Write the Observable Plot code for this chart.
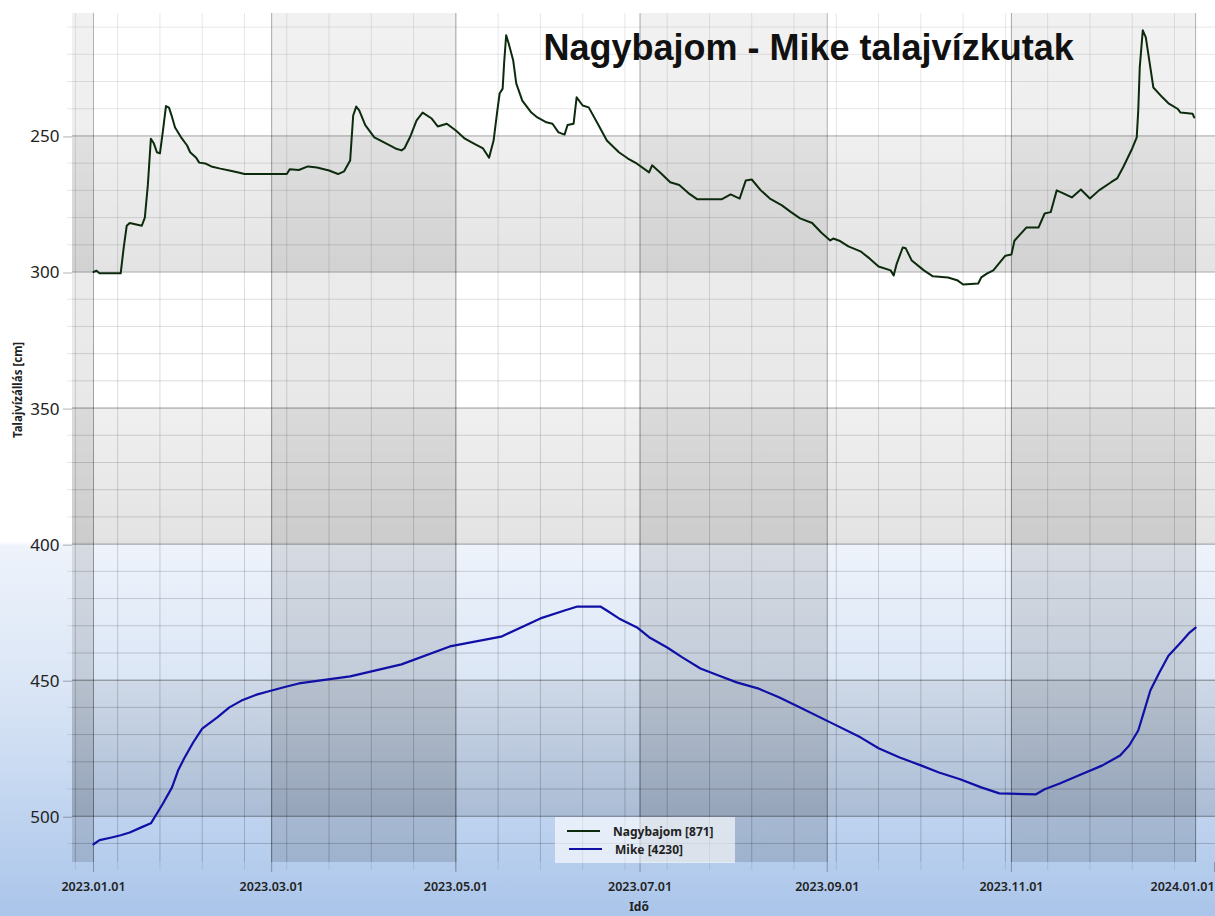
<!DOCTYPE html>
<html><head><meta charset="utf-8">
<script src="https://cdn.jsdelivr.net/npm/d3@7"></script>
<script src="https://cdn.jsdelivr.net/npm/@observablehq/plot@0.6"></script>
<style>
html,body{margin:0;padding:0;}
body{width:1215px;height:916px;overflow:hidden;position:relative;
 background:linear-gradient(to bottom,#ffffff 0px,#ffffff 541px,#eef3fb 546px,#d8e4f5 700px,#aac5ea 916px);
 font-family:"Noto Sans",sans-serif;}
#chart{position:absolute;left:0;top:0;}
#legend{position:absolute;left:555px;top:817px;width:180px;height:46px;background:rgba(255,255,255,0.62);}
</style></head>
<body>
<div id="chart"></div>
<div id="legend"></div>
<script>
const titleText = "Nagybajom - Mike talajvízkutak";
const xLabel = "Idő";
const yLabel = "Talajvízállás [cm]";
const seriesNames = ["Nagybajom [871]", "Mike [4230]"];
const seriesColors = ["#0c2a0c", "#1010a6"];

const nagyDates = ["2023-01-01","2023-01-02","2023-01-03","2023-01-10","2023-01-11","2023-01-12","2023-01-13","2023-01-17","2023-01-18","2023-01-19","2023-01-20","2023-01-21","2023-01-22","2023-01-23","2023-01-24","2023-01-25","2023-01-26","2023-01-27","2023-01-28","2023-01-30","2023-02-01","2023-02-02","2023-02-04","2023-02-05","2023-02-07","2023-02-09","2023-02-12","2023-02-15","2023-02-18","2023-02-20","2023-03-06","2023-03-07","2023-03-10","2023-03-13","2023-03-16","2023-03-20","2023-03-23","2023-03-25","2023-03-27","2023-03-28","2023-03-29","2023-03-30","2023-04-01","2023-04-04","2023-04-08","2023-04-11","2023-04-13","2023-04-14","2023-04-16","2023-04-18","2023-04-20","2023-04-23","2023-04-25","2023-04-28","2023-05-01","2023-05-04","2023-05-07","2023-05-10","2023-05-12","2023-05-13T12:00","2023-05-14T18:00","2023-05-15T12:00","2023-05-16T12:00","2023-05-17T00:00","2023-05-17T16:00","2023-05-18T12:00","2023-05-20","2023-05-21","2023-05-23","2023-05-26","2023-05-28","2023-05-31","2023-06-02","2023-06-04","2023-06-06","2023-06-07","2023-06-09","2023-06-10","2023-06-12","2023-06-14","2023-06-17","2023-06-20","2023-06-24","2023-06-27","2023-06-30","2023-07-04","2023-07-05","2023-07-08","2023-07-11","2023-07-14","2023-07-17","2023-07-20","2023-07-28","2023-07-31","2023-08-03","2023-08-05","2023-08-07","2023-08-10","2023-08-13","2023-08-17","2023-08-20","2023-08-23","2023-08-27","2023-08-30","2023-09-02","2023-09-03","2023-09-05","2023-09-08","2023-09-12","2023-09-15","2023-09-18","2023-09-22","2023-09-23","2023-09-24","2023-09-26","2023-09-27","2023-09-29","2023-10-03","2023-10-06","2023-10-11","2023-10-14","2023-10-16","2023-10-21","2023-10-22","2023-10-24","2023-10-26","2023-10-30","2023-11-01","2023-11-02","2023-11-06","2023-11-10","2023-11-12","2023-11-14","2023-11-16","2023-11-18","2023-11-21","2023-11-24","2023-11-27","2023-11-30","2023-12-04","2023-12-06","2023-12-08","2023-12-11","2023-12-12T12:00","2023-12-13T00:00","2023-12-13T12:00","2023-12-14T12:00","2023-12-15T12:00","2023-12-17","2023-12-18","2023-12-21","2023-12-23","2023-12-26","2023-12-27","2023-12-31","2023-12-31T12:00"];
const nagyValues = [300,299.5,300.5,300.5,291,283,282,283,280,268,251,252.8,256,256.4,248,239,239.6,243,246.9,250.5,253.5,256,258,259.8,260.1,261.2,262,262.7,263.4,264,264,262.2,262.5,261.2,261.6,262.7,264,263,259,242.5,239.2,240.6,246,250.5,252.8,254.6,255.3,254.5,250,244.3,241.4,243.6,246.5,245.5,248,251,252.8,254.6,258,251.7,240.6,234.4,232.6,223,213,216,222.3,230.7,237,241.4,243.2,245,245.5,248.7,249.5,246,245.5,235.8,238.8,239.5,245.5,251.7,256,258.3,260.2,263.4,260.8,263.8,267,268,271,273.3,273.3,271.5,273,266.4,266,270,273,275.5,278,280.3,282,285.5,288.4,287.7,288.5,290.6,292.4,295,298,299.4,301.3,297,291,291.3,295.8,299.4,301.6,302,303,304.6,304.2,302,300.5,299.4,294,293.6,288.5,283.6,283.6,278.5,278,270,271,272.6,269.7,273,270,267,265.6,261.5,254.6,250.5,240.6,224.8,211.2,213.8,224.8,232.2,235.8,238,240,241.4,241.8,243.2];

const mikeDates = ["2023-01-01","2023-01-03","2023-01-07","2023-01-10","2023-01-13","2023-01-17","2023-01-20","2023-01-22","2023-01-24","2023-01-27","2023-01-29","2023-01-31","2023-02-03","2023-02-06","2023-02-11","2023-02-15","2023-02-19","2023-02-24","2023-03-01","2023-03-06","2023-03-10","2023-03-27","2023-04-13","2023-04-29","2023-05-16","2023-05-29","2023-06-06","2023-06-10","2023-06-18","2023-06-20","2023-06-24","2023-06-30","2023-07-04","2023-07-10","2023-07-15","2023-07-21","2023-07-27","2023-08-02","2023-08-09","2023-08-16","2023-08-23","2023-09-02","2023-09-12","2023-09-18","2023-09-25","2023-10-02","2023-10-08","2023-10-15","2023-10-22","2023-10-28","2023-11-09","2023-11-12","2023-11-17","2023-11-24","2023-12-01","2023-12-07","2023-12-10","2023-12-13","2023-12-15","2023-12-17","2023-12-20","2023-12-23","2023-12-27","2023-12-30","2024-01-01"];
const mikeValues = [510.3,508.8,507.8,507,506,504,502.6,499,495.3,489.4,483.2,478.8,472.9,467.8,463.7,460,457.5,455.3,453.8,452.3,451.2,448.6,444.2,437.6,434,427.3,424.4,423,423,424.4,427.3,430.6,434.2,438,441.6,445.7,448.3,450.8,453,456.3,460,465.5,471,475,478.4,481.3,483.9,486.4,489.4,491.6,492,490.1,488,484.7,481.4,477.7,474,468.5,461.2,453.8,447.2,441,436.2,432.5,430.7];

const yMajorTicks = [250,300,350,400,450,500];
const yMinorTicks = [210,220,230,240,260,270,280,290,310,320,330,340,360,370,380,390,410,420,430,440,460,470,480,490,510];
const rowBandLo = [250,350,450];
const rowBandHi = [300,400,500];
const colBandStarts = ["2022-11-01","2023-03-01","2023-07-01","2023-11-01"];
const colBandEnds = ["2023-01-01","2023-05-01","2023-09-01","2024-01-01"];
const xDomain = ["2022-12-25T01:00","2024-01-07T14:00"];
const yDomain = [205,517];

const parse = s => new Date(s.length === 10 ? s + "T00:00Z" : s + "Z");
const nagyData = nagyDates.map((d,i) => ({date: parse(d), value: nagyValues[i]}));
const mikeData = mikeDates.map((d,i) => ({date: parse(d), value: mikeValues[i]}));
const rowBands = rowBandLo.map((lo,i) => ({lo, hi: rowBandHi[i]}));
const colBands = colBandStarts.map((s,i) => ({start: parse(s), end: parse(colBandEnds[i])}));
const xMajor = d3.utcMonth.range(parse("2023-01-01"), parse("2024-01-02"), 2);
const xMajorInner = xMajor.slice(0, -1);
const xMajorLast = xMajor.slice(-1);
const xMinor = d3.utcDay.range(parse("2022-12-26"), parse("2024-01-08"), 14);
const fmt = d3.utcFormat("%Y.%m.%d");
const xTickText = {tickSize: 10, tickPadding: 10, tickFormat: fmt, label: null, stroke: "url(#gridMajor)", fill: "#222", fontSize: 12.5, fontWeight: 600};

const chart = Plot.plot({
  width: 1215, height: 916,
  marginLeft: 72, marginRight: 0, marginTop: 13, marginBottom: 54,
  style: {background: "transparent", overflow: "visible", fontFamily: "'Noto Sans', sans-serif"},
  x: {type: "utc", domain: xDomain.map(parse)},
  y: {domain: yDomain, reverse: true},
  marks: [
    Plot.rect(colBands, {x1: "start", x2: "end", fill: "url(#colGrad)", clip: true}),
    Plot.rect(rowBands, {y1: "lo", y2: "hi", fill: "url(#rowGrad)"}),
    Plot.ruleY(yMinorTicks, {stroke: "url(#gridMinor)"}),
    Plot.ruleX(xMinor, {stroke: "url(#gridMinor)"}),
    Plot.ruleY(yMajorTicks, {stroke: "url(#gridMajor)"}),
    Plot.ruleX(xMajor, {stroke: "url(#gridMajor)"}),
    Plot.axisY({ticks: yMinorTicks, tickSize: 5, tickFormat: () => "", label: null, stroke: "url(#gridMinor)"}),
    Plot.axisY({ticks: yMajorTicks, tickSize: 9, tickPadding: 4, label: null, stroke: "url(#gridMajor)", fill: "#222", fontSize: 17, dy: 1}),
    Plot.axisX({ticks: xMinor, tickSize: 8, tickFormat: () => "", label: null, stroke: "url(#gridMinor)"}),
    Plot.axisX({ticks: xMajorInner, ...xTickText}),
    Plot.axisX({ticks: xMajorLast, ...xTickText, textAnchor: "end", dx: 19}),
    Plot.line(nagyData, {x: "date", y: "value", stroke: seriesColors[0], strokeWidth: 2}),
    Plot.line(mikeData, {x: "date", y: "value", stroke: seriesColors[1], strokeWidth: 2.2}),
    Plot.text([titleText], {frameAnchor: "top-left", dx: 471, dy: 20.5, textAnchor: "start", fontSize: 36, fontWeight: "bold", fontFamily: "'Liberation Sans', Arial, sans-serif", fill: "#111"}),
    Plot.text([yLabel], {frameAnchor: "left", dx: -54, rotate: -90, fontSize: 11.5, fontWeight: "bold", fill: "#222"}),
    Plot.text([xLabel], {frameAnchor: "bottom", dx: -5, dy: 48, fontSize: 12, fontWeight: "bold", fill: "#222"})
  ]
});

const svg = d3.select(chart);
const defs = svg.insert("defs", ":first-child");
function grad(id, units, y1, y2, o1, o2) {
  const g = defs.append("linearGradient").attr("id", id).attr("gradientUnits", units)
    .attr("x1", 0).attr("x2", 0).attr("y1", y1).attr("y2", y2);
  g.append("stop").attr("offset", 0).attr("stop-color", "#000").attr("stop-opacity", o1);
  g.append("stop").attr("offset", 1).attr("stop-color", "#000").attr("stop-opacity", o2);
}
grad("colGrad", "userSpaceOnUse", 13, 862, 0.055, 0.13);
grad("rowGrad", "objectBoundingBox", 0, 1, 0.06, 0.11);
grad("gridMinor", "userSpaceOnUse", 13, 872, 0.09, 0.2);
grad("gridMajor", "userSpaceOnUse", 13, 872, 0.3, 0.45);
document.getElementById("chart").appendChild(chart);

const leg = d3.select("#legend").append("svg").attr("width", 180).attr("height", 46)
  .style("font-family", "'Noto Sans', sans-serif");
seriesNames.forEach((name, i) => {
  leg.append("line").attr("x1", 12 + 2*i).attr("x2", 45 + 2*i)
    .attr("y1", 14 + 18*i).attr("y2", 14 + 18*i)
    .attr("stroke", seriesColors[i]).attr("stroke-width", 2);
  leg.append("text").attr("x", 58 + 2*i).attr("y", 19 + 18*i)
    .attr("font-size", 12).attr("font-weight", "bold").attr("fill", "#222").text(name);
});
</script>
</body></html>
